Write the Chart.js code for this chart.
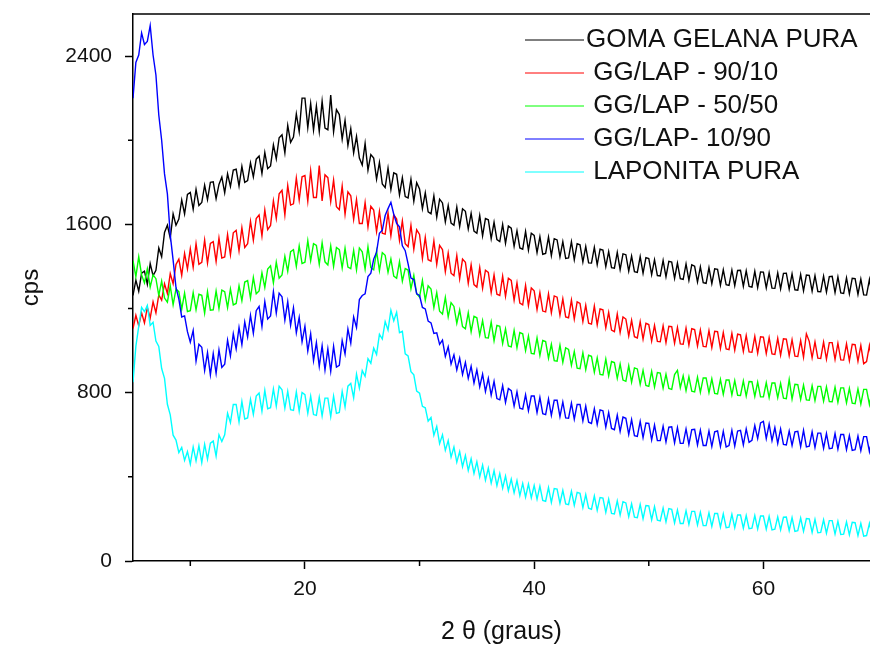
<!DOCTYPE html>
<html lang="pt">
<head>
  <meta charset="UTF-8">
  <title>DRX - goma gelana / laponita</title>
  <script src="https://cdn.jsdelivr.net/npm/chart.js"></script>
  <style>
    html, body { margin: 0; padding: 0; background: #fff; }
    .chart-box { width: 870px; height: 647px; position: relative; }
  </style>
</head>
<body>
  <div class="chart-box">
    <canvas id="drxChart"></canvas>
  </div>

  <script>
    // 2θ scan: starts at 5°, one reading every 0.25°
    const scanStart = 5;
    const scanStep = 0.25;

    const seriesLabels = ['GOMA GELANA PURA', ' GG/LAP - 90/10', ' GG/LAP - 50/50', ' GG/LAP- 10/90', ' LAPONITA PURA'];
    const seriesColors = ['#000000', '#ff0000', '#00ff00', '#0000ff', '#00ffff'];

    const xTicks = [20, 40, 60];
    const xMinorTicks = [10, 30, 50];
    const yTicks = [0, 800, 1600, 2400];
    const yMinorTicks = [400, 1200, 2000];

    // intensities (cps), 4 readings per degree from 5° to 69.75°
    const gomaGelanaPura = [
      1262,1335,1282,1368, 1378,1315,1414,1356, 1382,1488,1446,1562, 1596,1535,1650,1596, 1625,1716,1650,1742,
      1752,1672,1766,1690, 1704,1786,1718,1800, 1802,1722,1790,1825, 1750,1840,1780,1858, 1862,1782,1876,1800,
      1808,1892,1826,1910, 1925,1842,1942,1865, 1878,1978,1912,2012, 2026,1940,2070,1990, 2015,2125,2040,2200,
      2200,2060,2175,2048, 2162,2042,2185,2058, 2050,2215,2040,2145, 2122,2005,2095,1975, 2055,1940,2018,1915,
      1882,1985,1858,1932, 1915,1815,1895,1792, 1775,1868,1765,1845, 1838,1740,1822,1732, 1726,1815,1710,1798,
      1768,1675,1750,1660, 1650,1736,1634,1720, 1702,1612,1690,1606, 1596,1682,1590,1674, 1662,1578,1652,1568,
      1558,1642,1545,1628, 1622,1532,1610,1528, 1518,1600,1510,1592, 1582,1496,1570,1488, 1482,1566,1478,1558,
      1548,1466,1542,1458, 1462,1540,1452,1532, 1526,1446,1518,1438, 1441,1518,1432,1508, 1503,1421,1495,1417,
      1416,1491,1408,1482, 1478,1399,1471,1394, 1392,1467,1385,1460, 1456,1378,1449,1375, 1372,1447,1368,1442,
      1438,1361,1432,1357, 1355,1429,1351,1424, 1421,1344,1416,1342, 1339,1412,1334,1408, 1401,1326,1398,1323,
      1320,1394,1318,1389, 1386,1311,1384,1313, 1310,1383,1309,1381, 1382,1306,1379,1305, 1302,1377,1300,1374,
      1373,1298,1370,1297, 1296,1369,1294,1367, 1368,1292,1365,1289, 1287,1362,1284,1359, 1358,1283,1356,1281,
      1280,1354,1278,1352, 1353,1276,1350,1274, 1272,1346,1270,1344, 1342,1267,1340,1265, 1264,1338,1261,1335
    ];

    const ggLap9010 = [
      1105,1168,1118,1180, 1132,1205,1155,1232, 1180,1265,1240,1318, 1272,1366,1318,1410, 1435,1358,1462,1388,
      1484,1396,1508,1410, 1420,1525,1416,1510, 1518,1424,1535,1440, 1445,1552,1455,1560, 1572,1474,1584,1490,
      1508,1615,1525,1628, 1645,1545,1668,1575, 1595,1712,1628,1745, 1762,1645,1785,1692, 1698,1820,1716,1826,
      1832,1710,1855,1728, 1728,1880,1712,1836, 1822,1708,1810,1684, 1670,1782,1648,1755, 1736,1624,1718,1604,
      1604,1704,1588,1686, 1668,1566,1662,1558, 1554,1655,1546,1646, 1626,1524,1616,1508, 1494,1596,1482,1574,
      1552,1438,1538,1432, 1425,1522,1410,1500, 1480,1375,1464,1368, 1356,1452,1342,1435, 1420,1320,1408,1314,
      1302,1395,1296,1382, 1372,1276,1360,1268, 1262,1354,1258,1344, 1334,1240,1322,1226, 1218,1310,1214,1298,
      1284,1195,1276,1188, 1184,1270,1180,1260, 1254,1168,1246,1160, 1156,1240,1150,1232, 1224,1138,1216,1130,
      1126,1212,1122,1198, 1194,1108,1182,1098, 1090,1174,1086,1160, 1150,1070,1144,1066, 1060,1138,1055,1130,
      1124,1046,1120,1044, 1042,1118,1038,1116, 1114,1035,1110,1032, 1030,1107,1026,1104, 1100,1022,1098,1020,
      1018,1095,1014,1092, 1090,1010,1086,1008, 1005,1082,1002,1078, 1075,996,1072,994, 992,1068,988,1066,
      1064,986,1061,984, 982,1058,978,1056, 1055,976,1052,974, 972,1048,969,1080, 1044,966,1041,964,
      963,1040,960,1038, 1038,958,1035,956, 955,1032,952,1030, 1028,950,1025,938, 948,1024,946,1021
    ];

    const ggLap5050 = [
      1428,1352,1446,1360, 1322,1388,1302,1360, 1342,1262,1330,1250, 1230,1308,1218,1292, 1280,1196,1274,1186,
      1190,1276,1194,1268, 1263,1178,1280,1192, 1194,1283,1200,1288, 1280,1204,1293,1217, 1224,1308,1237,1326,
      1333,1250,1348,1270, 1284,1370,1300,1388, 1403,1322,1420,1344, 1360,1448,1377,1470, 1480,1400,1498,1414,
      1420,1523,1427,1508, 1500,1410,1513,1422, 1407,1498,1400,1490, 1480,1392,1486,1397, 1390,1476,1384,1488,
      1470,1387,1493,1394, 1384,1473,1380,1466, 1453,1372,1436,1354, 1344,1423,1330,1390, 1383,1294,1358,1270,
      1254,1333,1240,1308, 1293,1204,1276,1187, 1174,1253,1160,1228, 1210,1130,1193,1114, 1104,1180,1090,1163,
      1156,1074,1143,1062, 1060,1136,1047,1120, 1116,1034,1103,1022, 1018,1096,1014,1086, 1080,1000,1070,987,
      984,1060,977,1048, 1043,964,1030,952, 950,1026,944,1013, 1006,930,996,917, 914,990,910,978,
      973,897,966,887, 884,960,880,948, 943,868,936,860, 854,928,850,918, 913,840,906,834,
      830,902,827,896, 893,822,888,820, 816,886,906,824, 880,810,876,807, 804,874,802,870,
      870,800,866,797, 794,863,792,860, 860,790,858,788, 787,856,784,853, 852,782,850,780,
      780,848,777,846, 846,776,844,774, 772,863,770,840, 838,768,836,766, 764,833,762,830,
      830,760,828,758, 757,826,754,823, 823,752,820,750, 748,818,746,816, 816,744,813,742
    ];

    const ggLap1090 = [
      2200,2370,2405,2510, 2455,2470,2545,2405, 2310,2120,2000,1840, 1745,1550,1430,1300, 1245,1160,1165,1090,
      1040,1096,950,1030, 1016,905,990,885, 986,892,1003,920, 935,1050,975,1080, 1008,1110,1028,1136,
      1065,1168,1082,1190, 1210,1115,1233,1150, 1165,1280,1178,1273, 1256,1145,1233,1120, 1203,1085,1158,1042,
      1116,998,1080,952, 1038,925,1023,908, 1008,902,1020,922, 930,1048,984,1103, 1035,1160,1110,1243,
      1262,1270,1352,1368, 1435,1468,1558,1572, 1642,1675,1705,1648, 1605,1588,1498,1475, 1412,1345,1338,1270,
      1262,1205,1198,1140, 1132,1082,1085,1030, 1050,972,1018,936, 980,908,964,886, 944,868,926,846,
      908,828,888,806, 868,788,854,772, 766,834,754,820, 810,736,804,726, 722,790,714,784,
      784,706,778,700, 696,770,692,764, 764,686,756,680, 679,750,674,744, 744,666,736,660,
      654,724,649,718, 714,636,706,630, 624,694,616,684, 678,602,672,596, 592,664,586,656,
      654,576,646,572, 572,641,566,636, 638,562,634,559, 559,628,554,624, 626,552,622,549,
      549,618,544,614, 618,544,616,542, 549,621,546,618, 621,552,628,564, 574,644,582,656,
      664,582,651,572, 634,559,628,554, 552,618,549,614, 616,544,621,542, 546,614,539,608,
      608,536,606,534, 536,606,532,601, 601,529,596,526, 529,594,524,591, 591,520,586,516
    ];

    const laponitaPura = [
      850,1020,1115,1205, 1185,1215,1120,1135, 1045,1020,915,868, 745,695,598,575, 515,540,478,520,
      460,542,476,548, 468,555,484,560, 570,498,600,568, 600,702,658,744, 744,660,758,675,
      680,768,697,784, 798,712,811,724, 729,818,736,831, 814,726,806,719, 716,804,712,801,
      791,702,784,696, 692,778,689,774, 774,686,784,702, 706,806,732,831, 844,776,888,822,
      905,878,962,940, 1012,982,1078,1055, 1138,1098,1192,1142, 1182,1085,1092,985, 975,900,885,808,
      798,735,728,665, 682,598,640,558, 600,526,572,494, 542,470,520,448, 502,430,486,416,
      472,400,456,384, 442,370,429,358, 416,346,404,334, 389,324,382,311, 369,304,366,301,
      359,294,356,288, 284,349,278,344, 342,274,336,271, 268,332,264,326, 322,254,316,251,
      246,309,241,302, 299,231,294,226, 224,286,218,282, 276,211,272,208, 206,269,201,264,
      262,196,259,194, 191,252,186,249, 246,181,242,178, 178,239,174,236, 236,171,232,168,
      168,229,164,226, 226,161,224,158, 161,222,158,219, 219,156,216,154, 156,216,152,214,
      214,151,212,148, 151,210,148,208, 209,144,206,141, 144,204,141,202, 200,136,198,134,
      136,196,132,192, 192,128,189,126, 128,186,124,184, 182,121,179,118, 121,179,118,176
    ];

    const seriesValues = [gomaGelanaPura, ggLap9010, ggLap5050, ggLap1090, laponitaPura];
    const twoTheta = gomaGelanaPura.map((_, i) => scanStart + i * scanStep);

    const fontFamily = '"Liberation Sans", Arial, Helvetica, sans-serif';

    // top frame line, minor ticks and the in-plot legend
    const frameAndLegend = {
      id: 'frameAndLegend',
      afterDraw(chart) {
        const { ctx, chartArea: area, scales: { x, y } } = chart;
        ctx.save();
        ctx.strokeStyle = '#000';
        ctx.lineWidth = 1.5;
        ctx.beginPath();
        ctx.moveTo(area.left, area.top);
        ctx.lineTo(area.right, area.top);
        xMinorTicks.forEach(v => {
          const px = x.getPixelForValue(v);
          ctx.moveTo(px, area.bottom);
          ctx.lineTo(px, area.bottom + 5);
        });
        yMinorTicks.forEach(v => {
          const py = y.getPixelForValue(v);
          ctx.moveTo(area.left, py);
          ctx.lineTo(area.left - 5, py);
        });
        ctx.stroke();

        ctx.font = '26px ' + fontFamily;
        ctx.textBaseline = 'middle';
        ctx.textAlign = 'left';
        chart.data.datasets.forEach((ds, i) => {
          const ly = 40 + i * 33;
          ctx.strokeStyle = ds.borderColor;
          ctx.lineWidth = 1;
          ctx.beginPath();
          ctx.moveTo(area.right - 345, ly);
          ctx.lineTo(area.right - 286, ly);
          ctx.stroke();
          ctx.fillStyle = '#111';
          ctx.fillText(ds.label, area.right - 284, ly);
        });
        ctx.restore();
      }
    };

    const ctx = document.getElementById('drxChart').getContext('2d');
    new Chart(ctx, {
      type: 'line',
      data: {
        datasets: seriesValues.map((values, i) => ({
          label: seriesLabels[i],
          data: values.map((v, j) => ({ x: twoTheta[j], y: v })),
          borderColor: seriesColors[i],
          borderWidth: 1.4,
          pointRadius: 0,
          tension: 0,
          fill: false,
          order: seriesValues.length - i
        }))
      },
      options: {
        responsive: true,
        maintainAspectRatio: false,
        animation: false,
        layout: { padding: { top: 14, right: 0, bottom: 0, left: 0 } },
        plugins: {
          legend: { display: false },
          tooltip: { enabled: false }
        },
        scales: {
          x: {
            type: 'linear',
            min: 5,
            max: 69.3,
            afterBuildTicks: axis => { axis.ticks = xTicks.map(value => ({ value })); },
            afterFit: axis => {
              axis.height = 86;
              axis.paddingLeft = 0;
              axis.paddingRight = 0;
            },
            border: { display: true, color: '#000', width: 1.5 },
            grid: { drawOnChartArea: false, tickLength: 8, tickColor: '#000', tickWidth: 1.5 },
            ticks: { color: '#111', font: { family: fontFamily, size: 21 }, padding: 8, maxRotation: 0, callback: v => String(v) },
            title: { display: true, text: '2 θ (graus)', color: '#111', font: { family: fontFamily, size: 25 }, padding: 0 }
          },
          y: {
            min: 0,
            max: 2600,
            afterBuildTicks: axis => { axis.ticks = yTicks.map(value => ({ value })); },
            afterFit: axis => {
              axis.width = 133;
              axis.paddingTop = 0;
              axis.paddingBottom = 0;
            },
            border: { display: true, color: '#000', width: 1.5 },
            grid: { drawOnChartArea: false, tickLength: 8, tickColor: '#000', tickWidth: 1.5 },
            ticks: { color: '#111', font: { family: fontFamily, size: 21 }, padding: 13, callback: v => String(v) },
            title: { display: true, text: 'cps', color: '#111', font: { family: fontFamily, size: 24 }, padding: { top: 17, bottom: 0 } }
          }
        }
      },
      plugins: [frameAndLegend]
    });
  </script>
</body>
</html>
